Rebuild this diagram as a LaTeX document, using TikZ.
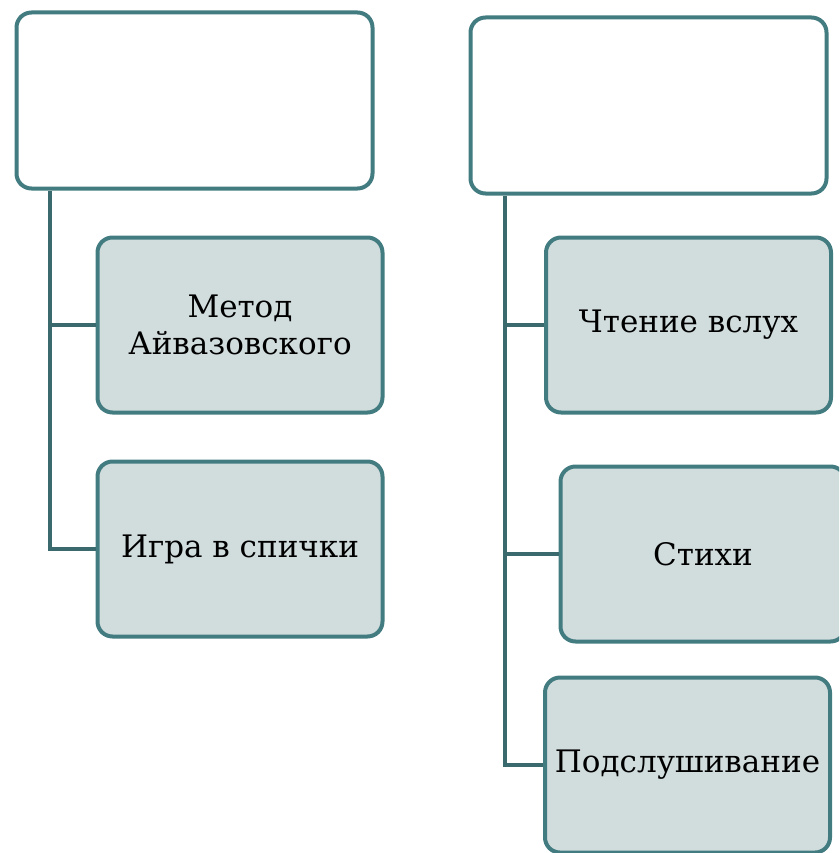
\documentclass[tikz,border=0pt]{standalone}
\usepackage{fontspec}
\setmainfont{DejaVu Serif}
\definecolor{edge}{RGB}{66,124,128}
\definecolor{spine}{RGB}{58,106,110}
\definecolor{boxfill}{RGB}{209,220,221}
\tikzset{
  topbox/.style={draw=edge, line width=4pt, rounded corners=15pt, fill=white, minimum width=356pt, minimum height=176pt, inner sep=0pt},
  childbox/.style={draw=edge, line width=4pt, rounded corners=15pt, fill=boxfill, minimum width=285pt, minimum height=175pt, inner sep=0pt, align=center, font=\fontsize{31}{37}\selectfont},
  link/.style={draw=spine, line width=4pt}
}
\begin{document}
\begin{tikzpicture}[x=1pt,y=-1pt]
\useasboundingbox (0,0) rectangle (839,853);
\clip (0,0) rectangle (839,853);
\node[topbox] (L) at (194.5,100.5) {};
\node[topbox] (R) at (648.5,105.5) {};
\node[childbox] (m) at (240,325) {Метод\\Айвазовского};
\node[childbox] (g) at (240,549) {Игра в спички};
\node[childbox] (c) at (688.5,325) {Чтение вслух};
\node[childbox] (s) at (703,554) {Стихи};
\node[childbox] (p) at (687.5,765) {Подслушивание};
\coordinate (lt) at (50,0);
\coordinate (rt) at (505,0);
\draw[link] (L.south -| lt) |- (g.west);
\draw[link] (lt |- m.west) -- (m.west);
\draw[link] (R.south -| rt) |- (p.west);
\draw[link] (rt |- c.west) -- (c.west);
\draw[link] (rt |- s.west) -- (s.west);
\end{tikzpicture}
\end{document}
